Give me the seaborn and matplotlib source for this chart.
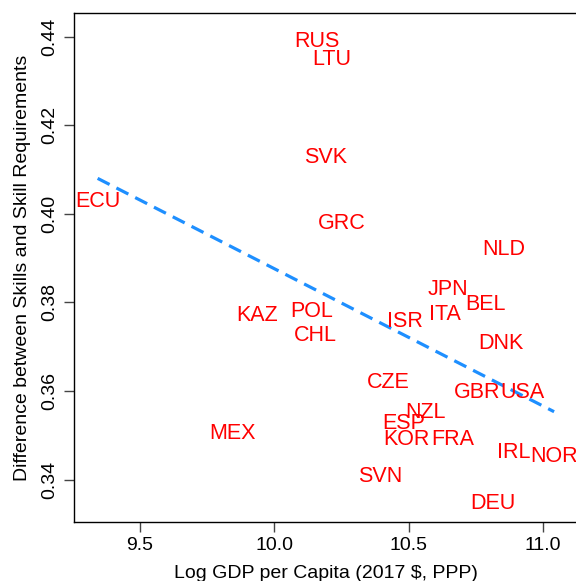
import numpy as np
import pandas as pd
import matplotlib
matplotlib.use("Agg")
import matplotlib.pyplot as plt
import matplotlib.transforms as mtransforms
import seaborn as sns

countries = ["RUS", "LTU", "SVK", "ECU", "GRC", "NLD", "JPN", "BEL", "KAZ", "POL",
             "ITA", "ISR", "CHL", "DNK", "CZE", "GBR", "USA", "NZL", "ESP", "KOR",
             "FRA", "MEX", "IRL", "NOR", "SVN", "DEU"]
log_gdp = [10.159, 10.215, 10.189, 9.342, 10.252, 10.855, 10.647, 10.784, 9.936, 10.137,
           10.634, 10.487, 10.152, 10.842, 10.423, 10.755, 10.922, 10.561, 10.483, 10.490,
           10.662, 9.845, 10.889, 11.041, 10.393, 10.814]
skill_gap = [0.4393, 0.4353, 0.4133, 0.4033, 0.3982, 0.3925, 0.3833, 0.3800, 0.3776, 0.3785,
             0.3777, 0.3761, 0.3730, 0.3712, 0.3623, 0.3601, 0.3601, 0.3556, 0.3531, 0.3496,
             0.3496, 0.3508, 0.3465, 0.3456, 0.3413, 0.3350]
x_ticks = [9.5, 10.0, 10.5, 11.0]
y_ticks = [0.34, 0.36, 0.38, 0.40, 0.42, 0.44]

df = pd.DataFrame({"country": countries, "gdp": log_gdp, "gap": skill_gap})

sns.set_theme(style="white")
plt.rcParams["font.family"] = ["Liberation Sans", "DejaVu Sans"]

fig = plt.figure(figsize=(5.76, 5.81), dpi=100)
ax = fig.add_axes([74 / 576, 1 - 522 / 581, (578 - 74) / 576, (522 - 13) / 581])

sns.regplot(data=df, x="gdp", y="gap", ax=ax, scatter=False, ci=None, truncate=True,
            line_kws=dict(color="#1E8FFF", lw=2.3, dashes=(4.2, 2.4)))

shift = mtransforms.ScaledTranslation(0, -1.5 / 72, fig.dpi_scale_trans)
for c, xv, yv in zip(df["country"], df["gdp"], df["gap"]):
    ax.text(xv, yv, c, color="#FF0000", fontsize=15.5, ha="center", va="center",
            transform=ax.transData + shift)

ax.set_xlim(9.254, 11.13)
ax.set_ylim(0.33045, 0.44535)
ax.set_xticks(x_ticks)
ax.set_xticklabels([f"{v:.1f}" for v in x_ticks])
ax.set_yticks(y_ticks)
ax.set_yticklabels([f"{v:.2f}" for v in y_ticks], rotation=90, va="center")

for s in ["left", "bottom", "top"]:
    ax.spines[s].set_visible(True)
    ax.spines[s].set_color("black")
    ax.spines[s].set_linewidth(1.0)
ax.spines["right"].set_visible(False)

ax.tick_params(axis="both", which="major", direction="out", length=7, width=1,
               color="#444444", labelsize=14, labelcolor="black", bottom=True, left=True)
ax.tick_params(axis="x", pad=4)
ax.tick_params(axis="y", pad=4)

ax.set_xlabel("Log GDP per Capita (2017 $, PPP)", fontsize=14, color="black", labelpad=8)
ax.set_ylabel("Difference between Skills and Skill Requirements", fontsize=14,
              color="black", labelpad=8)

fig.savefig("out.png", dpi=100)
